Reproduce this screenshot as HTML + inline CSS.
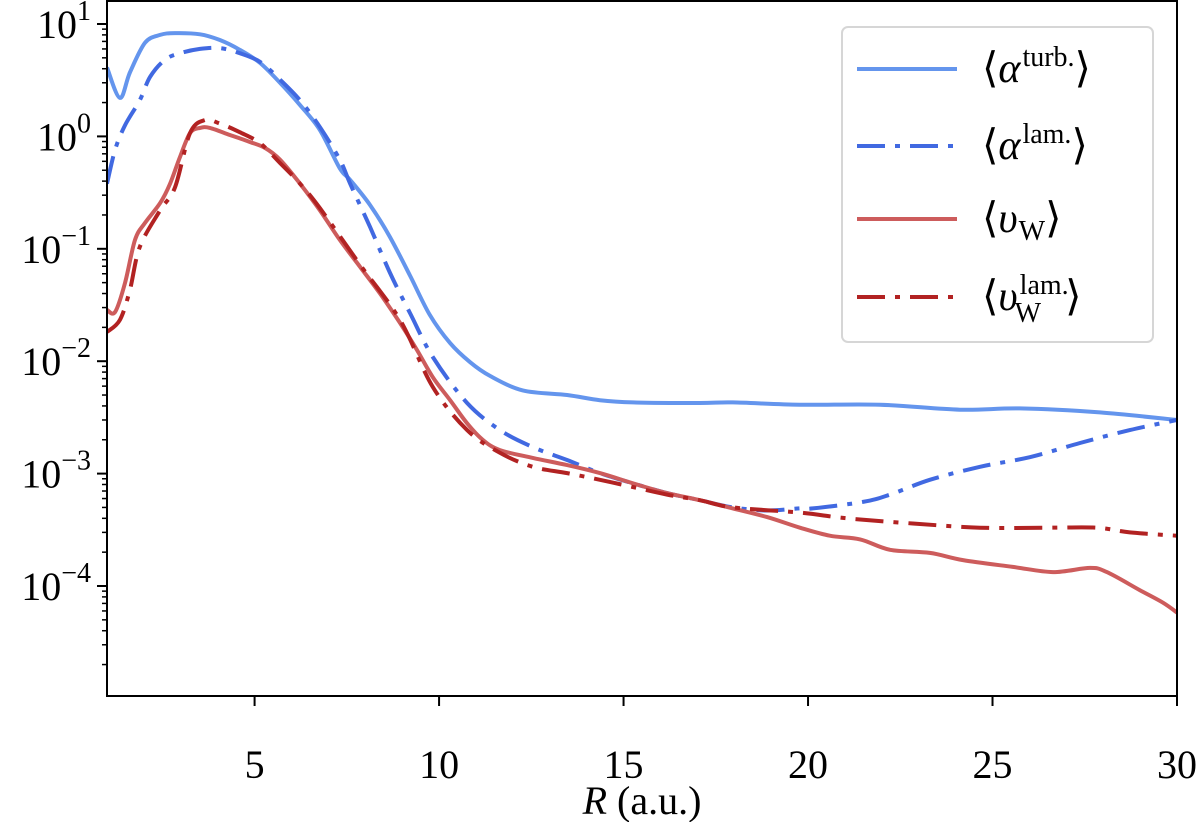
<!DOCTYPE html>
<html><head><meta charset="utf-8"><style>
html,body{margin:0;padding:0;background:#fff;}
svg{display:block;font-family:"Liberation Serif",serif;}
</style></head><body>
<svg id="chart" width="1200" height="822" viewBox="0 0 1200 822">
<g id="plot"></g>
</svg>
<script>
const rTurb=[1,1.35,1.62,2.03,2.44,2.84,3.52,4.06,4.6,5.15,5.69,6.23,6.77,7.31,7.59,8.13,8.67,9.21,9.75,10.3,10.84,11.38,12.27,13.47,14.36,15.25,17.07,17.96,19.78,21.95,24.12,25.74,27.91,30];
const aTurb=[4.1,2.2,3.7,6.8,8.0,8.3,8.1,7.2,5.9,4.5,3.0,1.9,1.14,0.52,0.41,0.245,0.127,0.058,0.0258,0.0145,0.0098,0.0074,0.0055,0.005,0.0045,0.0043,0.00425,0.0043,0.0041,0.0041,0.0037,0.0038,0.0035,0.0030];
const rLam=[1,1.22,1.49,1.89,2.17,2.57,2.98,3.52,4.06,4.6,5.15,5.69,6.23,6.77,7.31,7.59,8.13,8.67,9.21,9.83,10.76,11.65,12.54,13.47,14.36,15.25,16.18,17.07,17.96,18.89,19.78,20.13,21.49,22.22,23.3,24.66,26.01,27.37,28.72,30];
const aLam=[0.38,0.76,1.26,2.1,3.4,4.8,5.5,6.0,6.1,5.5,4.6,3.2,2.1,1.21,0.62,0.38,0.156,0.061,0.0269,0.0109,0.00425,0.00244,0.00172,0.00132,0.00101,0.00082,0.00067,0.00058,0.0005,0.00047,0.00049,0.00049,0.00056,0.00065,0.00088,0.00115,0.0014,0.00187,0.00244,0.0030];
const rVw=[1,1.22,1.49,1.76,2.03,2.44,2.71,2.98,3.25,3.52,3.79,4.33,4.88,5.28,5.69,6.23,6.77,7.31,7.86,8.4,8.94,9.4,9.83,10.3,10.76,11.19,11.65,12.54,13.47,14.36,15.25,16.18,17.07,17.96,18.89,19.78,20.59,21.41,22.22,23.3,24.2,25.55,26.64,27.64,28.1,28.99,29.62,30];
const vW=[0.0286,0.0274,0.05,0.12,0.17,0.255,0.38,0.66,1.07,1.19,1.19,1.03,0.89,0.79,0.62,0.38,0.22,0.12,0.069,0.04,0.0219,0.0126,0.0072,0.0045,0.0028,0.00199,0.00162,0.00138,0.00119,0.00101,0.00082,0.00067,0.00058,0.00049,0.00041,0.00033,0.00028,0.00026,0.00021,0.000197,0.00017,0.000148,0.000133,0.000145,0.000133,0.000092,0.000071,0.000058];
const rVwLam=[1,1.35,1.62,1.89,2.44,2.84,3.25,3.66,4.06,4.6,5.15,5.69,6.23,6.77,7.86,8.94,9.83,10.76,11.65,12.54,13.47,14.36,15.25,16.18,17.07,17.96,19.78,21.05,22.84,24.66,26.47,27.83,28.72,30];
const vWLam=[0.0182,0.0233,0.043,0.104,0.22,0.35,1.07,1.4,1.3,1.09,0.87,0.58,0.38,0.23,0.072,0.0233,0.0059,0.00244,0.00153,0.00115,0.00101,0.00088,0.00076,0.00065,0.00058,0.0005,0.00045,0.0004,0.00036,0.00033,0.00033,0.00033,0.0003,0.00028];
const xTicks=[5,10,15,20,25,30];
const yTickExp=[1,0,-1,-2,-3,-4];

const L=107,Rr=1177,T=1,B=696;
const xMin=1,xMax=30,y10=24,dec=112.4;
const sx=v=>L+(v-xMin)/(xMax-xMin)*(Rr-L);
const sy=v=>y10+(1-Math.log10(v))*dec;
const NS="http://www.w3.org/2000/svg";
const svg=document.getElementById('chart');
const plot=document.getElementById('plot');
function mk(tag,attrs,parent){const e=document.createElementNS(NS,tag);for(const k in attrs)e.setAttribute(k,attrs[k]);(parent||svg).appendChild(e);return e;}

const defs=mk('defs',{});
const cp=mk('clipPath',{id:'clip'},defs);
mk('rect',{x:L,y:T,width:Rr-L,height:B-T},cp);

function pathFor(xs,ys){
  const p=xs.map((x,i)=>[sx(x),sy(ys[i])]);
  let d='M'+p[0][0].toFixed(1)+','+p[0][1].toFixed(1);
  for(let i=0;i<p.length-1;i++){
    const p0=p[Math.max(0,i-1)],p1=p[i],p2=p[i+1],p3=p[Math.min(p.length-1,i+2)];
    const c1=[p1[0]+(p2[0]-p0[0])/6,p1[1]+(p2[1]-p0[1])/6];
    const c2=[p2[0]-(p3[0]-p1[0])/6,p2[1]-(p3[1]-p1[1])/6];
    d+=' C'+c1[0].toFixed(1)+','+c1[1].toFixed(1)+' '+c2[0].toFixed(1)+','+c2[1].toFixed(1)+' '+p2[0].toFixed(1)+','+p2[1].toFixed(1);
  }
  return d;
}
const DASH='28,10,5,10';
const series=[
 {xs:rTurb,ys:aTurb,c:'#6495ed',dash:null,name:'series-alpha-turb'},
 {xs:rLam,ys:aLam,c:'#4169e1',dash:DASH,name:'series-alpha-lam'},
 {xs:rVw,ys:vW,c:'#cd5c5c',dash:null,name:'series-vw'},
 {xs:rVwLam,ys:vWLam,c:'#b22222',dash:DASH,name:'series-vw-lam'}
];
series.forEach(s=>{
  const e=mk('path',{d:pathFor(s.xs,s.ys),fill:'none',stroke:s.c,'stroke-width':4,'clip-path':'url(#clip)'},plot);
  if(s.dash)e.setAttribute('stroke-dasharray',s.dash);
  
  
});

const frame=mk('rect',{x:L,y:T,width:Rr-L,height:B-T,fill:'none',stroke:'#000','stroke-width':2});



xTicks.forEach(t=>{
  const x=sx(t);
  const tk=mk('line',{x1:x,x2:x,y1:B,y2:B+10,stroke:'#000','stroke-width':2});
  
  
  const lb=mk('text',{x:x,y:B+82,'text-anchor':'middle','font-size':40});
  lb.textContent=t;
  
  
});
for(let e=-5;e<=1;e++){
  for(let m=1;m<10;m++){
    const v=m*Math.pow(10,e);const y=sy(v);
    if(y<T||y>B)continue;
    const tk=mk('line',{x1:L-(m===1?10:5),x2:L,y1:y,y2:y,stroke:'#000','stroke-width':m===1?2:1.5});
    
    
  }
}
yTickExp.forEach(e=>{
  const y=sy(Math.pow(10,e));
  const t=mk('text',{x:L-16,y:y+14,'text-anchor':'end','font-size':40});
  t.textContent='10';
  const s=mk('tspan',{dy:-18,'font-size':28},t);
  s.textContent=e<0?'\u2212'+(-e):String(e);
  
  
});
const xt=mk('text',{x:642,y:814,'text-anchor':'middle','font-size':40});
xt.innerHTML='<tspan font-style="italic">R</tspan> (a.u.)';



const lg=mk('g',{});


mk('rect',{x:842,y:27,width:311,height:315,rx:6,fill:'#fff',stroke:'#d6d6d6','stroke-width':2},lg);
const rowsY=[69,146,219,297];
const labels=[['\u27E8','\u03B1','turb.','','\u27E9'],['\u27E8','\u03B1','lam.','','\u27E9'],['\u27E8','\u03C5','','W','\u27E9'],['\u27E8','\u03C5','lam.','W','\u27E9']];
series.forEach((s,i)=>{
  const y=rowsY[i];
  const ent=mk('g',{},lg);
  
  
  const ln=mk('line',{x1:857,x2:957,y1:y,y2:y,stroke:s.c,'stroke-width':4},ent);
  if(s.dash)ln.setAttribute('stroke-dasharray',s.dash);
  const lb=labels[i];
  const t=mk('text',{x:982,y:y+13,'font-size':42},ent);
  let h='<tspan>'+lb[0]+'</tspan><tspan font-style="italic">'+lb[1]+'</tspan>';
  if(lb[2]&&lb[3]){
    h+='<tspan dx="2" dy="-16" font-size="28">'+lb[2]+'</tspan><tspan dx="-54" dy="28" font-size="28">'+lb[3]+'</tspan><tspan dx="24" dy="-12">'+lb[4]+'</tspan>';
  }else if(lb[2]){
    h+='<tspan dx="2" dy="-16" font-size="28">'+lb[2]+'</tspan><tspan dy="16">'+lb[4]+'</tspan>';
  }else{
    h+='<tspan dx="1" dy="8" font-size="28">'+lb[3]+'</tspan><tspan dy="-8">'+lb[4]+'</tspan>';
  }
  t.innerHTML=h;
});
</script>
</body></html>
